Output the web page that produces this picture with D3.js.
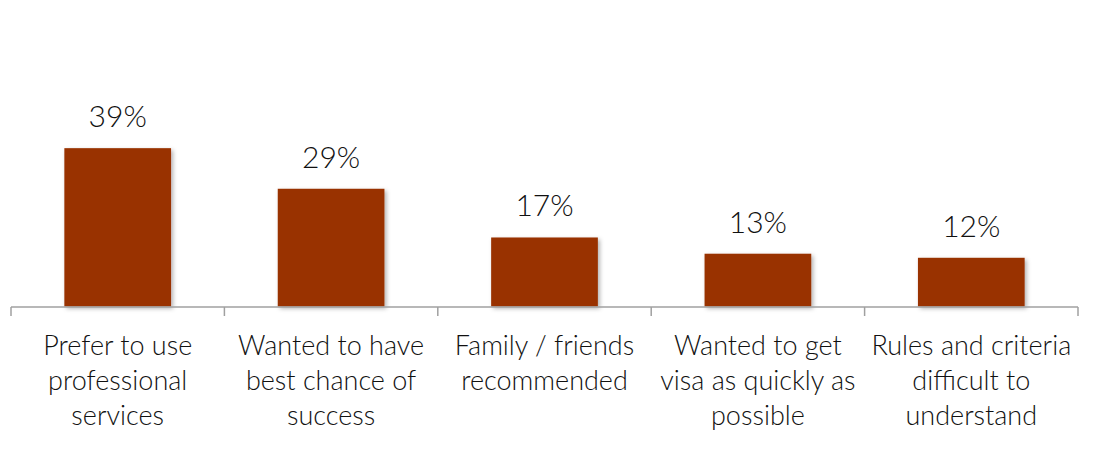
<!DOCTYPE html>
<html>
<head>
<meta charset="utf-8">
<script src="https://cdn.jsdelivr.net/npm/d3@7"></script>
<style>
  html, body { margin: 0; padding: 0; background: #fff; }
  svg { display: block; }
</style>
</head>
<body>
<svg id="chart" width="1099" height="457"></svg>
<script>
// Reasons for using professional visa services (share of respondents)
const categories = [
  ["Prefer to use", "professional", "services"],
  ["Wanted to have", "best chance of", "success"],
  ["Family / friends", "recommended"],
  ["Wanted to get", "visa as quickly as", "possible"],
  ["Rules and criteria", "difficult to", "understand"]
];
const values = [39, 29, 17, 13, 12];
const valueLabels = ["39%", "29%", "17%", "13%", "12%"];

const svg = d3.select("#chart");
const FONT = "Lato, 'Open Sans', sans-serif";
const baseY = 306.5;

const x = d3.scaleBand()
  .domain(d3.range(values.length))
  .range([11, 1078])
  .paddingInner(0.5)
  .paddingOuter(0.25);

const y = d3.scaleLinear()
  .domain([0, 45])
  .range([baseY, baseY - 45 * 4.06]);

// soft shadow under the bars
const defs = svg.append("defs");
const f = defs.append("filter").attr("id", "shadow")
  .attr("x", "-10%").attr("y", "-10%").attr("width", "130%").attr("height", "130%");
f.append("feDropShadow").attr("dx", 2).attr("dy", 2).attr("stdDeviation", 2)
  .attr("flood-color", "#000").attr("flood-opacity", 0.3);

svg.append("g").selectAll("rect")
  .data(values)
  .join("rect")
  .attr("x", (d, i) => x(i))
  .attr("width", x.bandwidth())
  .attr("y", d => y(d))
  .attr("height", d => y(0) - y(d))
  .attr("fill", "#993300")
  .attr("filter", "url(#shadow)");

// value labels above bars
svg.append("g").selectAll("text")
  .data(values)
  .join("text")
  .attr("x", (d, i) => x(i) + x.bandwidth() / 2)
  .attr("y", d => y(d) - 21)
  .attr("text-anchor", "middle")
  .attr("font-family", FONT)
  .attr("font-weight", 300)
  .attr("font-size", 30)
  .attr("fill", "#111")
  .text((d, i) => valueLabels[i]);

// category axis: baseline with ticks at band edges
const step = x.step();
const edges = d3.range(values.length + 1).map(i => x(0) - step * 0.25 + i * step);
const axis = svg.append("g").attr("stroke", "#a0a0a0").attr("stroke-width", 1.5).attr("fill", "none");
axis.append("line").attr("x1", edges[0]).attr("x2", edges[edges.length - 1])
  .attr("y1", baseY + 0.5).attr("y2", baseY + 0.5);
axis.selectAll("line.tick").data(edges).join("line").attr("class", "tick")
  .attr("x1", d => d).attr("x2", d => d)
  .attr("y1", baseY + 0.5).attr("y2", baseY + 9.5);

// category labels
const lab = svg.append("g").selectAll("text")
  .data(categories)
  .join("text")
  .attr("text-anchor", "middle")
  .attr("font-family", FONT)
  .attr("font-weight", 300)
  .attr("font-size", 27)
  .attr("fill", "#111");
lab.selectAll("tspan")
  .data((d, i) => d.map(s => ({ s, i })))
  .join("tspan")
  .attr("x", d => x(d.i) + x.bandwidth() / 2)
  .attr("y", (d, j) => 355 + j * 35)
  .text(d => d.s);
</script>
</body>
</html>
